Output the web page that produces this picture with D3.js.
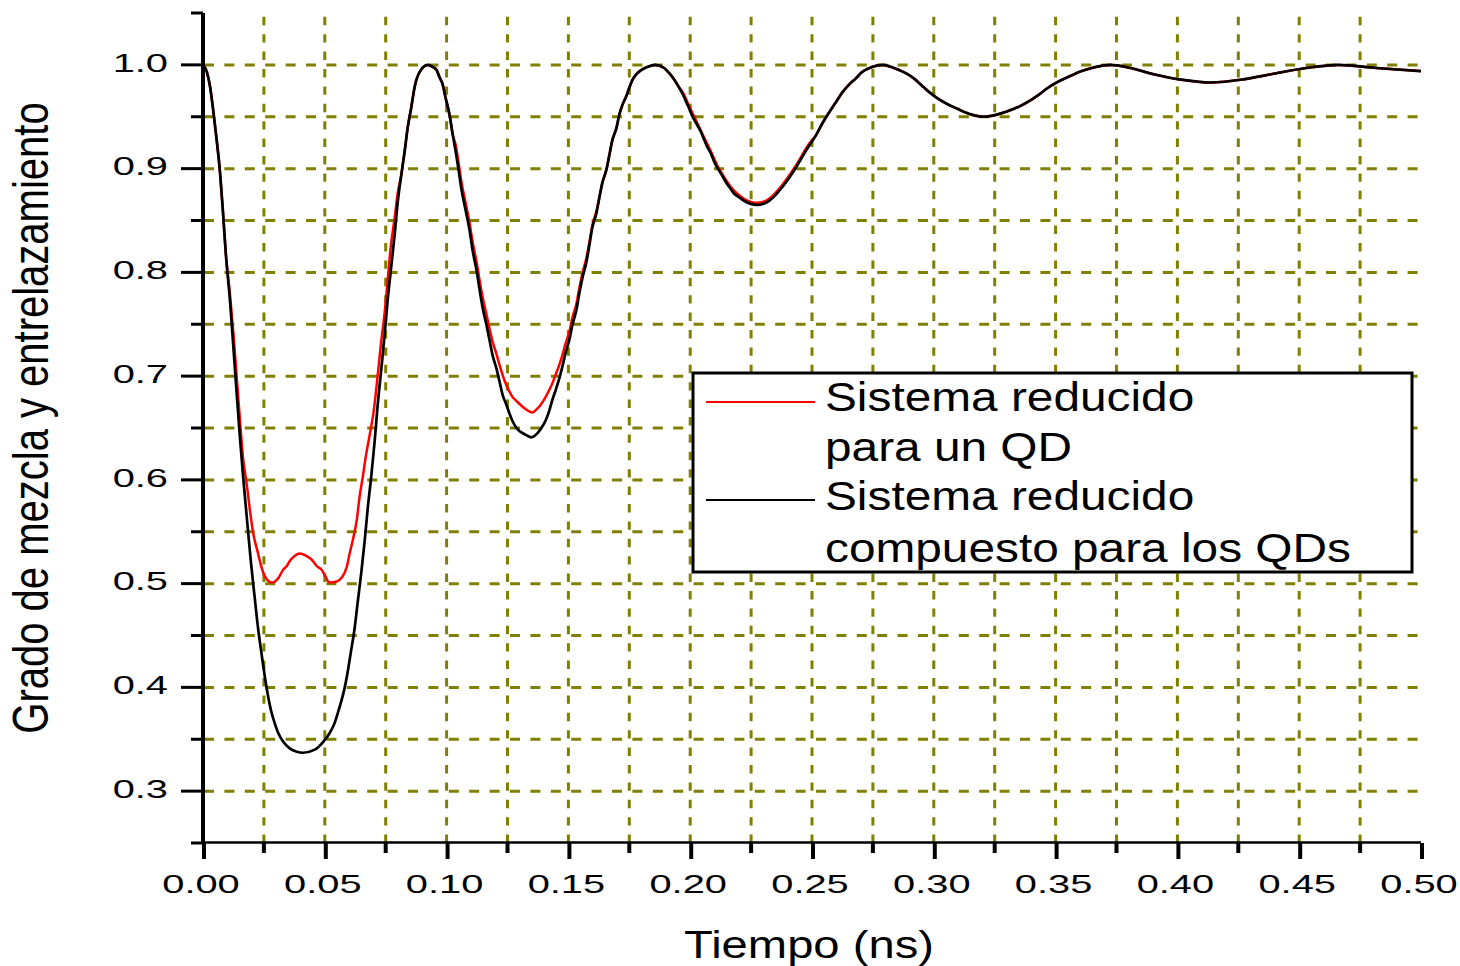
<!DOCTYPE html>
<html>
<head>
<meta charset="utf-8">
<script src="https://cdn.jsdelivr.net/npm/d3@7"></script>
<style>
  html, body { margin: 0; background: #ffffff; }
  svg { display: block; }
  text { font-family: "Liberation Sans", Arial, Helvetica, sans-serif; fill: #000; }
</style>
</head>
<body>
<svg id="chart" width="1460" height="966"></svg>
<script>
// ---- Data: time (ns) vs. degree of mixing / entanglement ----
// Both curves coincide over long stretches; those stretches are kept once.
const sharedStart = [
  [0.0000, 1.000], [0.0016, 0.993], [0.0029, 0.979], [0.0041, 0.958],
  [0.0055, 0.930], [0.0070, 0.896], [0.0082, 0.858], [0.0094, 0.817]
];
const blackDip1 = [
  [0.0111, 0.772], [0.0125, 0.727], [0.0139, 0.681], [0.0152, 0.640],
  [0.0164, 0.605], [0.0184, 0.553], [0.0197, 0.520], [0.0213, 0.485],
  [0.0225, 0.459], [0.0240, 0.433], [0.0254, 0.410], [0.0266, 0.393],
  [0.0279, 0.378], [0.0295, 0.365], [0.0307, 0.357], [0.0328, 0.348],
  [0.0357, 0.341], [0.0385, 0.338], [0.0410, 0.337], [0.0459, 0.340],
  [0.0492, 0.347], [0.0520, 0.356], [0.0541, 0.366], [0.0553, 0.375],
  [0.0568, 0.387], [0.0582, 0.400], [0.0594, 0.415], [0.0607, 0.434],
  [0.0623, 0.458], [0.0635, 0.482], [0.0650, 0.511], [0.0664, 0.542],
  [0.0676, 0.572], [0.0691, 0.604], [0.0705, 0.638], [0.0717, 0.672],
  [0.0732, 0.707], [0.0746, 0.741], [0.0758, 0.773], [0.0773, 0.806],
  [0.0787, 0.837], [0.0799, 0.867]
];
const redDip1 = [
  [0.0111, 0.778], [0.0127, 0.735], [0.0139, 0.697], [0.0152, 0.657],
  [0.0164, 0.622], [0.0180, 0.595], [0.0193, 0.570], [0.0205, 0.550],
  [0.0225, 0.530], [0.0240, 0.516], [0.0254, 0.507], [0.0283, 0.501],
  [0.0311, 0.506], [0.0328, 0.513], [0.0344, 0.517], [0.0357, 0.522],
  [0.0373, 0.526], [0.0398, 0.529], [0.0422, 0.527], [0.0447, 0.523],
  [0.0467, 0.517], [0.0488, 0.513], [0.0500, 0.508], [0.0520, 0.501],
  [0.0549, 0.502], [0.0570, 0.506], [0.0590, 0.516], [0.0602, 0.529],
  [0.0615, 0.542], [0.0631, 0.561], [0.0643, 0.584], [0.0656, 0.603],
  [0.0668, 0.622], [0.0684, 0.643], [0.0700, 0.665], [0.0715, 0.696],
  [0.0730, 0.730], [0.0746, 0.762], [0.0758, 0.792], [0.0770, 0.823],
  [0.0787, 0.853], [0.0799, 0.876]
];
const sharedPeak1 = [
  [0.0814, 0.894], [0.0828, 0.917], [0.0840, 0.939], [0.0855, 0.959],
  [0.0869, 0.979], [0.0889, 0.993], [0.0922, 1.000], [0.0943, 0.998],
  [0.0959, 0.995], [0.0971, 0.988], [0.0984, 0.981], [0.0996, 0.968],
  [0.1012, 0.952], [0.1025, 0.933]
];
const blackDip2 = [
  [0.1037, 0.917], [0.1049, 0.899], [0.1061, 0.880], [0.1078, 0.860],
  [0.1094, 0.841], [0.1107, 0.821], [0.1123, 0.802], [0.1135, 0.784],
  [0.1148, 0.766], [0.1164, 0.749], [0.1176, 0.735], [0.1189, 0.720],
  [0.1205, 0.707], [0.1217, 0.695], [0.1230, 0.682], [0.1246, 0.672],
  [0.1258, 0.664], [0.1270, 0.657], [0.1287, 0.650], [0.1320, 0.644],
  [0.1348, 0.641], [0.1373, 0.645], [0.1389, 0.650], [0.1406, 0.657],
  [0.1422, 0.667], [0.1434, 0.677], [0.1447, 0.686], [0.1463, 0.698],
  [0.1475, 0.709], [0.1488, 0.722], [0.1504, 0.735], [0.1516, 0.749],
  [0.1533, 0.764], [0.1545, 0.780], [0.1557, 0.794], [0.1574, 0.810],
  [0.1586, 0.826], [0.1598, 0.843], [0.1615, 0.857]
];
const redDip2 = [
  [0.1037, 0.923], [0.1049, 0.906], [0.1061, 0.887], [0.1078, 0.867],
  [0.1094, 0.848], [0.1107, 0.829], [0.1123, 0.810], [0.1135, 0.793],
  [0.1148, 0.776], [0.1164, 0.759], [0.1176, 0.746], [0.1189, 0.733],
  [0.1205, 0.721], [0.1217, 0.711], [0.1230, 0.701], [0.1246, 0.691],
  [0.1258, 0.685], [0.1270, 0.680], [0.1287, 0.676], [0.1320, 0.669],
  [0.1352, 0.665], [0.1369, 0.668], [0.1385, 0.672], [0.1402, 0.678],
  [0.1418, 0.685], [0.1434, 0.693], [0.1447, 0.701], [0.1463, 0.711],
  [0.1475, 0.720], [0.1488, 0.731], [0.1504, 0.743], [0.1516, 0.756],
  [0.1533, 0.770], [0.1545, 0.785], [0.1557, 0.799], [0.1574, 0.814],
  [0.1586, 0.829], [0.1598, 0.845], [0.1615, 0.859]
];
const sharedTail = [
  [0.1627, 0.872], [0.1639, 0.886], [0.1656, 0.899], [0.1668, 0.913],
  [0.1680, 0.927], [0.1697, 0.939], [0.1709, 0.952], [0.1721, 0.961],
  [0.1738, 0.970], [0.1750, 0.978], [0.1762, 0.985], [0.1779, 0.991],
  [0.1799, 0.995], [0.1824, 0.998], [0.1857, 1.000], [0.1893, 0.997],
  [0.1914, 0.992], [0.1934, 0.986], [0.1955, 0.978], [0.1971, 0.971],
  [0.1984, 0.964], [0.1996, 0.958], [0.2008, 0.951], [0.2029, 0.942],
  [0.2045, 0.935], [0.2057, 0.928], [0.2070, 0.921], [0.2086, 0.914],
  [0.2098, 0.907], [0.2111, 0.901], [0.2127, 0.895], [0.2139, 0.890],
  [0.2152, 0.885], [0.2168, 0.880], [0.2180, 0.876], [0.2197, 0.873],
  [0.2221, 0.869], [0.2275, 0.865], [0.2324, 0.869], [0.2352, 0.875],
  [0.2377, 0.882], [0.2406, 0.891], [0.2434, 0.901], [0.2459, 0.911],
  [0.2488, 0.922], [0.2516, 0.932], [0.2541, 0.943], [0.2570, 0.954],
  [0.2598, 0.964], [0.2623, 0.973], [0.2652, 0.981], [0.2680, 0.987],
  [0.2705, 0.993], [0.2746, 0.998], [0.2791, 1.000], [0.2836, 0.997],
  [0.2885, 0.992], [0.2918, 0.987], [0.2951, 0.980], [0.2980, 0.974],
  [0.3008, 0.969], [0.3049, 0.963], [0.3094, 0.958], [0.3156, 0.952],
  [0.3205, 0.950], [0.3258, 0.952], [0.3299, 0.955], [0.3352, 0.960],
  [0.3398, 0.966], [0.3430, 0.971], [0.3463, 0.977], [0.3504, 0.983],
  [0.3549, 0.988], [0.3607, 0.994], [0.3648, 0.997], [0.3725, 1.000],
  [0.3807, 0.997], [0.3902, 0.991], [0.4008, 0.986], [0.4139, 0.983],
  [0.4270, 0.986], [0.4385, 0.991], [0.4529, 0.997], [0.4660, 1.000],
  [0.4816, 0.997], [0.5000, 0.994]
];
// The single-QD curve runs a hair above the composite one in the third dip.
const redDip3 = [
  [0.1971, 0.973], [0.1996, 0.960], [0.2029, 0.944], [0.2057, 0.930],
  [0.2086, 0.916], [0.2111, 0.903], [0.2139, 0.892], [0.2168, 0.882],
  [0.2197, 0.875], [0.2221, 0.871], [0.2275, 0.867], [0.2324, 0.871],
  [0.2377, 0.884], [0.2434, 0.903], [0.2488, 0.924]
];

const seriesComposite = [...sharedStart, ...blackDip1, ...sharedPeak1, ...blackDip2, ...sharedTail];
const seriesSingle = [
  ...sharedStart, ...redDip1, ...sharedPeak1, ...redDip2,
  ...sharedTail.filter(d => d[0] < 0.197),
  ...redDip3,
  ...sharedTail.filter(d => d[0] > 0.249)
];

const xTickValues = [0, 0.05, 0.10, 0.15, 0.20, 0.25, 0.30, 0.35, 0.40, 0.45, 0.50];
const xTickLabels = ["0.00", "0.05", "0.10", "0.15", "0.20", "0.25", "0.30", "0.35", "0.40", "0.45", "0.50"];
const yTickValues = [0.3, 0.4, 0.5, 0.6, 0.7, 0.8, 0.9, 1.0];
const yTickLabels = ["0.3", "0.4", "0.5", "0.6", "0.7", "0.8", "0.9", "1.0"];

const legendEntries = [
  { color: "#ff0000", lines: ["Sistema reducido", "para un QD"] },
  { color: "#000000", lines: ["Sistema reducido", "compuesto para los QDs"] }
];

const xTitle = "Tiempo (ns)";
const yTitle = "Grado de mezcla y entrelazamiento";

// ---- Layout ----
const plot = { left: 203, right: 1421, top: 13, bottom: 843 };
const gridColor = "#808000";

const svg = d3.select("#chart");

const x = d3.scaleLinear().domain([0, 0.5]).range([plot.left, plot.right]);
const y = d3.scaleLinear().domain([0.25, 1.05]).range([plot.bottom, plot.top]);

// ---- Grid ----
const xGrid = d3.range(1, 20).map(i => i * 0.025);
const yGrid = d3.range(6, 21).map(i => i * 0.05);

svg.append("g").selectAll("line").data(xGrid).join("line")
  .attr("x1", d => x(d)).attr("x2", d => x(d))
  .attr("y1", plot.bottom).attr("y2", plot.top)
  .attr("stroke", gridColor).attr("stroke-width", 3)
  .attr("stroke-dasharray", "8.4,9");

svg.append("g").selectAll("line").data(yGrid).join("line")
  .attr("x1", plot.left + 1).attr("x2", plot.right)
  .attr("y1", d => y(d)).attr("y2", d => y(d))
  .attr("stroke", gridColor).attr("stroke-width", 3)
  .attr("stroke-dasharray", "10,10.4");

// ---- Curves ----
const line = d3.line()
  .x(d => x(d[0]))
  .y(d => y(d[1]))
  .curve(d3.curveMonotoneX);

svg.append("path").datum(seriesSingle)
  .attr("d", line).attr("fill", "none")
  .attr("stroke", "#ff0000").attr("stroke-width", 2.5)
  .attr("stroke-linejoin", "round");

svg.append("path").datum(seriesComposite)
  .attr("d", line).attr("fill", "none")
  .attr("stroke", "#000000").attr("stroke-width", 2.7)
  .attr("stroke-linejoin", "round");

// ---- Axes ----
const axes = svg.append("g");
axes.append("line")
  .attr("x1", plot.left).attr("x2", plot.left)
  .attr("y1", plot.top).attr("y2", plot.bottom)
  .attr("stroke", "#000").attr("stroke-width", 4);
axes.append("line")
  .attr("x1", plot.left).attr("x2", plot.right)
  .attr("y1", plot.bottom - 0.5).attr("y2", plot.bottom - 0.5)
  .attr("stroke", "#000").attr("stroke-width", 2.5);

// y ticks: major every 0.1, minor halfway between
const yMinor = d3.range(0, 9).map(i => 0.25 + i * 0.1);
axes.selectAll(".ymaj").data(yTickValues).join("line")
  .attr("x1", plot.left - 22).attr("x2", plot.left)
  .attr("y1", d => y(d)).attr("y2", d => y(d))
  .attr("stroke", "#000").attr("stroke-width", 3);
axes.selectAll(".ymin").data(yMinor).join("line")
  .attr("x1", plot.left - 12).attr("x2", plot.left)
  .attr("y1", d => y(d)).attr("y2", d => y(d))
  .attr("stroke", "#000").attr("stroke-width", 3);

// x ticks: major every 0.05, minor halfway between
const xMinor = d3.range(0, 10).map(i => 0.025 + i * 0.05);
axes.selectAll(".xmaj").data(xTickValues).join("line")
  .attr("x1", d => x(d) + 1).attr("x2", d => x(d) + 1)
  .attr("y1", plot.bottom).attr("y2", plot.bottom + 16)
  .attr("stroke", "#000").attr("stroke-width", 4);
axes.selectAll(".xmin").data(xMinor).join("line")
  .attr("x1", d => x(d)).attr("x2", d => x(d))
  .attr("y1", plot.bottom).attr("y2", plot.bottom + 10)
  .attr("stroke", "#000").attr("stroke-width", 4);

// tick labels (wide, horizontally stretched face)
const tickStretch = 1.55;
svg.append("g").selectAll("text").data(yTickValues).join("text")
  .attr("transform", d => `translate(${plot.left - 35},${y(d) + 6.7}) scale(${tickStretch},1)`)
  .attr("text-anchor", "end")
  .attr("font-size", 25.7)
  .text((d, i) => yTickLabels[i]);

svg.append("g").selectAll("text").data(xTickValues).join("text")
  .attr("transform", d => `translate(${x(d) - 2},${plot.bottom + 50}) scale(${tickStretch},1)`)
  .attr("text-anchor", "middle")
  .attr("font-size", 25.7)
  .text((d, i) => xTickLabels[i]);

// axis titles
svg.append("text")
  .attr("transform", `translate(${(plot.left + plot.right) / 2 - 3},958) scale(1.21,1)`)
  .attr("text-anchor", "middle")
  .attr("font-size", 39)
  .text(xTitle);

svg.append("text")
  .attr("transform", `translate(48,${(plot.top + plot.bottom) / 2 - 10}) scale(1.25,1) rotate(-90)`)
  .attr("text-anchor", "middle")
  .attr("font-size", 40)
  .text(yTitle);

// ---- Legend ----
const legend = svg.append("g");
legend.append("rect")
  .attr("x", 693).attr("y", 373)
  .attr("width", 719).attr("height", 199)
  .attr("fill", "#fff").attr("stroke", "#000").attr("stroke-width", 3);

const legendBaselines = [[411, 461], [510, 562]];
const legendSwatchY = [402, 500];
legendEntries.forEach((entry, i) => {
  legend.append("line")
    .attr("x1", 706).attr("x2", 815)
    .attr("y1", legendSwatchY[i]).attr("y2", legendSwatchY[i])
    .attr("stroke", entry.color).attr("stroke-width", 2.2);
  entry.lines.forEach((txt, j) => {
    legend.append("text")
      .attr("transform", `translate(825,${legendBaselines[i][j]}) scale(1.195,1)`)
      .attr("font-size", 40)
      .text(txt);
  });
});
</script>
</body>
</html>
